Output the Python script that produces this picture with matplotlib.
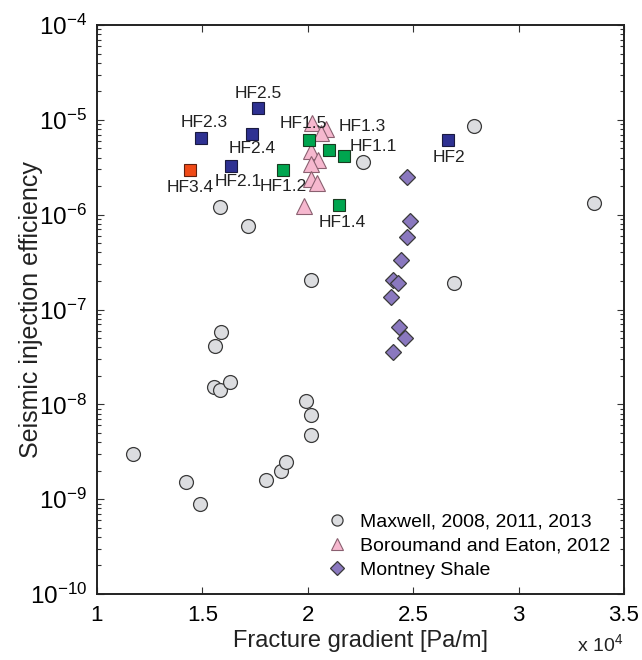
import numpy as np
import matplotlib
matplotlib.use('Agg')
import matplotlib.pyplot as plt
from matplotlib.ticker import LogLocator, NullFormatter, FixedLocator

plt.rcParams['font.family'] = ['Liberation Sans', 'DejaVu Sans']
plt.rcParams['mathtext.fontset'] = 'custom'
plt.rcParams['mathtext.rm'] = 'Liberation Sans'
plt.rcParams['mathtext.it'] = 'Liberation Sans'

# 数据 (fracture gradient in 1e4 Pa/m, efficiency)
maxwell_x = [1.588, 1.560, 1.555, 1.583, 1.631, 1.171, 1.422, 1.489, 1.802, 1.873,
             1.897, 1.991, 2.015, 2.015, 1.583, 1.716, 2.015, 2.694, 2.262, 2.788, 3.358]
maxwell_y = [5.8e-8, 4.1e-8, 1.52e-8, 1.42e-8, 1.72e-8, 3.0e-9, 1.52e-9, 8.9e-10, 1.59e-9, 1.98e-9,
             2.47e-9, 1.08e-8, 7.7e-9, 4.7e-9, 1.2e-6, 7.6e-7, 2.05e-7, 1.9e-7, 3.6e-6, 8.6e-6, 1.33e-6]

boro_x = [2.020, 2.086, 2.061, 2.015, 2.048, 2.015, 2.015, 2.044, 1.982]
boro_y = [9.3e-6, 8.0e-6, 7.2e-6, 4.7e-6, 3.77e-6, 3.42e-6, 2.38e-6, 2.16e-6, 1.23e-6]

montney_x = [2.471, 2.485, 2.471, 2.442, 2.404, 2.428, 2.395, 2.433, 2.461, 2.404]
montney_y = [2.5e-6, 8.6e-7, 5.8e-7, 3.3e-7, 2.05e-7, 1.9e-7, 1.35e-7, 6.5e-8, 5.0e-8, 3.56e-8]

hf1_names = ['HF1.1', 'HF1.2', 'HF1.3', 'HF1.4', 'HF1.5']
hf1_x = [2.172, 1.882, 2.100, 2.148, 2.006]
hf1_y = [4.16e-6, 2.96e-6, 4.8e-6, 1.26e-6, 6.1e-6]

hf2_names = ['HF2', 'HF2.1', 'HF2.3', 'HF2.4', 'HF2.5']
hf2_x = [2.665, 1.636, 1.493, 1.735, 1.764]
hf2_y = [6.1e-6, 3.26e-6, 6.4e-6, 7.1e-6, 1.33e-5]

hf3_names = ['HF3.4']
hf3_x = [1.441]
hf3_y = [2.96e-6]

# label offsets in pixels
offs = {'HF1.1': (29, 10), 'HF1.2': (0, -16), 'HF1.3': (33, 24), 'HF1.4': (3, -17),
        'HF1.5': (-6, 17), 'HF2': (1, -17), 'HF2.1': (7, -15), 'HF2.3': (3, 16),
        'HF2.4': (0, -14), 'HF2.5': (0, 15), 'HF3.4': (0, -17)}

fig = plt.figure(figsize=(6.42, 6.6), dpi=100)
ax = fig.add_axes([0.151, 0.1, 0.821, 0.862])

edge = '#3a3a3a'
ax.plot(maxwell_x, maxwell_y, 'o', ms=10, mfc='#dcdde0', mec=edge, mew=0.9,
        ls='none', label='Maxwell, 2008, 2011, 2013', zorder=3)
ax.plot(boro_x, boro_y, '^', ms=11, mfc='#f6b8cf', mec='#8a6070', mew=0.8,
        ls='none', label='Boroumand and Eaton, 2012', zorder=3)
ax.plot(montney_x, montney_y, 'D', ms=8.5, mfc='#8a78bf', mec=edge, mew=0.9,
        ls='none', label='Montney Shale', zorder=3)
ax.plot(hf1_x, hf1_y, 's', ms=9, mfc='#00a54f', mec='#1a3a20', mew=0.8, ls='none', zorder=4)
ax.plot(hf2_x, hf2_y, 's', ms=9, mfc='#2e3192', mec='#1a1a40', mew=0.8, ls='none', zorder=4)
ax.plot(hf3_x, hf3_y, 's', ms=9, mfc='#f04a17', mec='#602010', mew=0.8, ls='none', zorder=4)

for names, xs, ys in [(hf1_names, hf1_x, hf1_y), (hf2_names, hf2_x, hf2_y), (hf3_names, hf3_x, hf3_y)]:
    for n, x, y in zip(names, xs, ys):
        ax.annotate(n, (x, y), xytext=offs[n], textcoords='offset pixels',
                    ha='center', va='center', fontsize=12.5, color='#222222', zorder=5)

ax.set_yscale('log')
ax.set_xlim(1, 3.5)
ax.set_ylim(1e-10, 1e-4)
ax.xaxis.set_major_locator(FixedLocator([1, 1.5, 2, 2.5, 3, 3.5]))
ax.set_xticklabels(['1', '1.5', '2', '2.5', '3', '3.5'])
ax.yaxis.set_minor_locator(LogLocator(base=10, subs=np.arange(2, 10), numticks=20))
ax.yaxis.set_minor_formatter(NullFormatter())
ax.set_yticks([10.0**k for k in range(-10, -3)])
ax.set_yticklabels(['$10^{%d}$' % k for k in range(-10, -3)])

ax.tick_params(which='both', direction='in', top=True, right=True, width=0.8, color='#333333')
ax.tick_params(axis='x', labelsize=16, pad=8)
ax.tick_params(axis='y', labelsize=17.5, pad=7)
ax.tick_params(which='major', length=5)
ax.tick_params(which='minor', length=3)
for s in ax.spines.values():
    s.set_linewidth(1.4)
    s.set_color('#222222')

ax.set_xlabel('Fracture gradient [Pa/m]', fontsize=17, labelpad=3, color='#222222')
ax.set_ylabel('Seismic injection efficiency', fontsize=18, color='#222222', va='center')
ax.yaxis.set_label_coords(-0.125, 0.5)
fig.text(0.935, 0.008, r'x $10^{4}$', fontsize=14, ha='center', va='bottom', color='#222222')

leg = ax.legend(loc='lower right', bbox_to_anchor=(1.0, 0.002), frameon=False, fontsize=14,
                handletextpad=0.2, labelspacing=0.35, borderaxespad=0.3, markerscale=0.8)

fig.savefig('out.png', dpi=100)
